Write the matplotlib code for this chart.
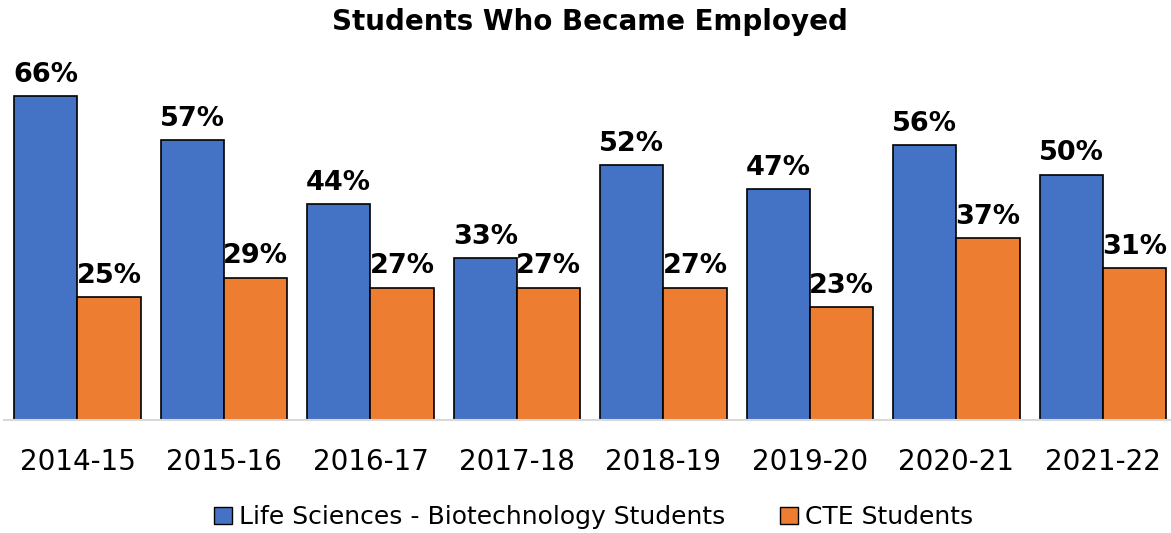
import numpy as np
import matplotlib
matplotlib.use('Agg')
from matplotlib import pyplot as plt
from matplotlib.patches import Patch

years = ['2014-15', '2015-16', '2016-17', '2017-18', '2018-19', '2019-20', '2020-21', '2021-22']
life_sci = [66, 57, 44, 33, 52, 47, 56, 50]
cte = [25, 29, 27, 27, 27, 23, 37, 31]
series_names = ['Life Sciences - Biotechnology Students', 'CTE Students']

blue = '#4472C4'
orange = '#ED7D31'

plt.rcParams['font.family'] = ['DejaVu Sans']

fig = plt.figure(figsize=(11.71, 5.33), dpi=100)
ax = fig.add_axes([4.2 / 1171, 113 / 533, 1172 / 1171, 368 / 533])

x = np.arange(len(years))
w = 0.433
b1 = ax.bar(x - w / 2, life_sci, w, color=blue, edgecolor='black', linewidth=1.2)
b2 = ax.bar(x + w / 2, cte, w, color=orange, edgecolor='black', linewidth=1.2)

for bars, vals in [(b1, life_sci), (b2, cte)]:
    for rect, v in zip(bars, vals):
        ax.annotate('%d%%' % v, (rect.get_x() + rect.get_width() / 2, v),
                    xytext=(0, 6), textcoords='offset points',
                    ha='center', va='bottom', fontsize=19.5, fontweight='bold')

ax.set_xlim(-0.5, 7.5)
ax.set_ylim(0, 75)
ax.set_yticks([])
for s in ['top', 'right', 'left']:
    ax.spines[s].set_visible(False)
ax.spines['bottom'].set_color('#d9d9d9')
ax.spines['bottom'].set_linewidth(1.5)
ax.set_xticks(x)
ax.set_xticklabels(years, fontsize=20)
ax.tick_params(axis='x', length=0, pad=20)

fig.text(0.504, 0.958, 'Students Who Became Employed', ha='center', va='center',
         fontsize=20, fontweight='bold')

handles = [Patch(facecolor=blue, edgecolor='black'), Patch(facecolor=orange, edgecolor='black')]
fig.legend(handles, series_names, loc='center', bbox_to_anchor=(0.507, 0.03),
           ncol=2, frameon=False, fontsize=18, handlelength=0.7, handleheight=0.7,
           handletextpad=0.3, columnspacing=2.2)

fig.savefig('out.png', dpi=100)
